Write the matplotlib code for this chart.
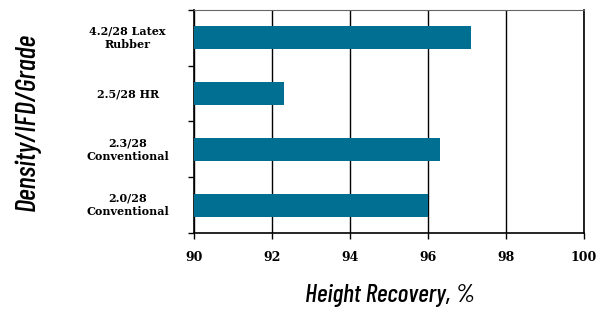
import matplotlib.pyplot as plt

# data
categories = ['2.0/28\nConventional', '2.3/28\nConventional', '2.5/28 HR', '4.2/28 Latex\nRubber']
recovery = [96.0, 96.3, 92.3, 97.1]
xticks = [90, 92, 94, 96, 98, 100]

serif = ['DejaVu Serif']
cond = ['Barlow Condensed', 'DejaVu Sans']

fig = plt.figure(figsize=(6.09, 3.12), dpi=100)
ax = fig.add_axes([0.3186, 0.2532, 0.6404, 0.7148])

ax.barh(range(len(categories)), [v - 90 for v in recovery], left=90, height=0.41,
        color='#006f91', zorder=3)

ax.set_xlim(90, 100)
ax.set_ylim(-0.5, len(categories) - 0.5)
ax.set_xticks(xticks)
ax.set_xticklabels([str(t) for t in xticks], fontfamily=serif,
                   fontweight='bold', fontsize=9)
ax.set_yticks([i - 0.5 for i in range(len(categories) + 1)])
ax.set_yticklabels([])
ax.tick_params(axis='y', direction='out', length=4, width=1)
ax.tick_params(axis='x', direction='out', length=4, width=1, pad=9)

# category labels centred left of the axis
for i, lab in enumerate(categories):
    ax.text(-0.17, i, lab, transform=ax.get_yaxis_transform(), ha='center', va='center',
            multialignment='center', fontfamily=serif, fontweight='bold',
            fontsize=8, linespacing=1.3)

ax.grid(axis='x', color='black', linewidth=1, zorder=1)
for s in ['left', 'bottom', 'right']:
    ax.spines[s].set_linewidth(1.2)
ax.spines['top'].set_color('#666666')

fig.text(0.046, 0.61, 'Density/IFD/Grade', rotation=90, ha='center', va='center',
         fontfamily=cond, style='italic', fontweight=500, fontsize=20.5)
fig.text(0.64, 0.054, 'Height Recovery, %', ha='center', va='center',
         fontfamily=cond, style='italic', fontweight=500, fontsize=18.5)

fig.savefig('out.png', dpi=100)
